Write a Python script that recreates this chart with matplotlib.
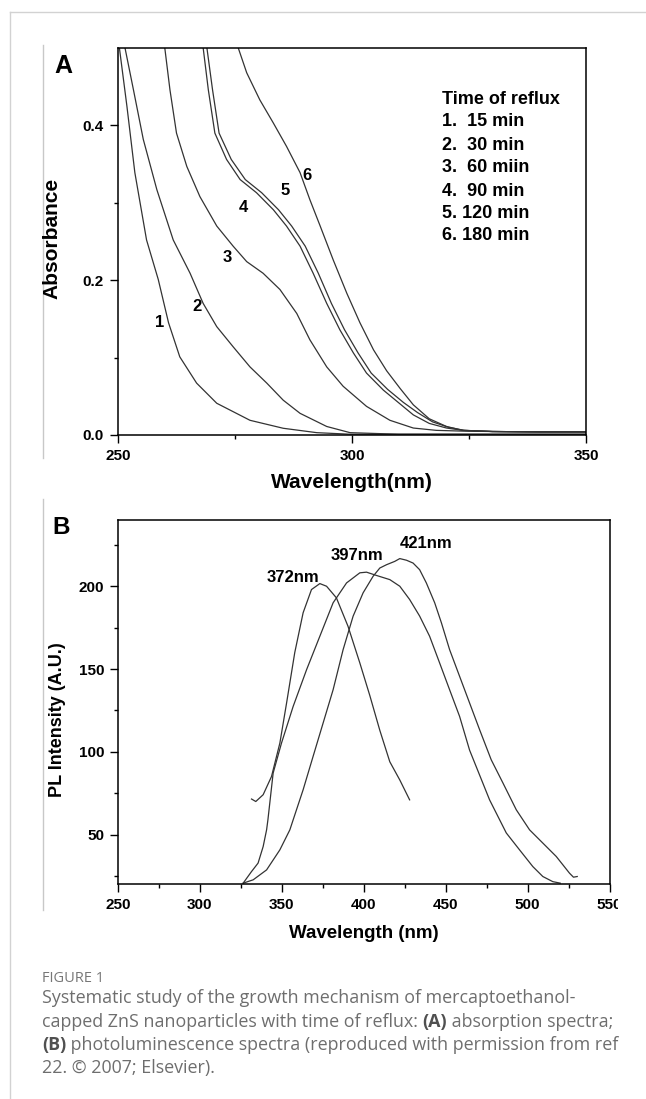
import matplotlib
matplotlib.use("Agg")
import matplotlib.pyplot as plt
from matplotlib.ticker import MultipleLocator, FixedLocator
from matplotlib.lines import Line2D
from matplotlib.patches import Rectangle

plt.rcParams['font.family'] = ['Liberation Sans', 'DejaVu Sans']

# --- panel A: absorption spectra (wavelength nm, absorbance) ---
wl_1 = [250.3, 251.9, 253.6, 256.1, 258.6, 260.8, 263.2, 266.8, 271.1, 278.2, 285.3, 292.5, 299.6, 310, 330, 350]
abs_1 = [0.500, 0.425, 0.339, 0.252, 0.201, 0.145, 0.101, 0.067, 0.041, 0.019, 0.0087, 0.003, 0.001, 0.001, 0.001, 0.001]

wl_2 = [251.5, 253.3, 255.4, 258.3, 261.8, 265.4, 268.2, 271.1, 274.6, 278.2, 281.8, 285.3, 288.9, 294.6, 299.6, 310, 330, 350]
abs_2 = [0.500, 0.446, 0.382, 0.317, 0.252, 0.209, 0.170, 0.140, 0.114, 0.088, 0.067, 0.045, 0.028, 0.011, 0.003, 0.001, 0.001, 0.001]

wl_3 = [260.0, 261.1, 262.5, 264.7, 267.5, 271.1, 274.6, 277.5, 281.0, 284.6, 288.2, 291.0, 294.6, 298.1, 303.1, 308.1, 313.1, 318, 323.7, 330, 340, 350]
abs_3 = [0.500, 0.446, 0.390, 0.347, 0.308, 0.270, 0.244, 0.224, 0.209, 0.188, 0.157, 0.123, 0.088, 0.063, 0.037, 0.019, 0.009, 0.006, 0.005, 0.0045, 0.004, 0.004]

wl_4 = [268.2, 269.3, 270.7, 273.2, 276.1, 279.6, 283.2, 286.0, 288.9, 291.7, 294.6, 297.4, 300.3, 303.1, 306.7, 310.3, 313.1, 316.5, 320.2, 323.7, 330, 340, 350]
abs_4 = [0.500, 0.446, 0.390, 0.356, 0.330, 0.313, 0.291, 0.270, 0.244, 0.209, 0.170, 0.136, 0.106, 0.080, 0.058, 0.040, 0.026, 0.015, 0.009, 0.006, 0.0045, 0.004, 0.004]

wl_5 = [269.0, 270.2, 271.6, 274.2, 277.2, 280.7, 284.3, 287.1, 290.0, 292.8, 295.6, 298.4, 301.3, 304.1, 307.6, 311.0, 314.0, 317.2, 320.6, 324.0, 330, 340, 350]
abs_5 = [0.500, 0.446, 0.390, 0.356, 0.330, 0.313, 0.291, 0.270, 0.244, 0.209, 0.170, 0.136, 0.106, 0.080, 0.059, 0.042, 0.029, 0.017, 0.010, 0.006, 0.0045, 0.004, 0.004]

wl_6 = [275.7, 277.5, 280.3, 283.2, 286.0, 288.9, 291.0, 293.2, 296.0, 298.9, 301.7, 304.6, 307.4, 310.3, 313.1, 316.5, 320.2, 323.7, 330, 340, 350]
abs_6 = [0.500, 0.468, 0.433, 0.403, 0.373, 0.339, 0.304, 0.270, 0.226, 0.183, 0.145, 0.110, 0.083, 0.060, 0.039, 0.021, 0.011, 0.006, 0.0045, 0.004, 0.004]

curve_tags = ['1', '2', '3', '4', '5', '6']
tag_x = [258.8, 266.9, 273.3, 276.7, 285.7, 290.4]
tag_y = [0.145, 0.166, 0.229, 0.294, 0.316, 0.335]

legend_lines = ['Time of reflux', '1.  15 min', '2.  30 min', '3.  60 miin',
                '4.  90 min', '5. 120 min', '6. 180 min']

# --- panel B: PL spectra (wavelength nm, intensity A.U.) ---
wl_372 = [331.5, 334.1, 338.6, 343.7, 348.8, 352.9, 357.9, 363.0, 368.1, 373.2, 377.3, 383.3, 390.4, 397.6, 403.7, 409.8, 415.9, 422.0, 428.0]
pl_372 = [71.5, 70.0, 74.1, 85.1, 105.3, 129.5, 160.0, 184.0, 198.0, 201.6, 200.0, 193.0, 175.8, 153.7, 134.0, 113.0, 94.0, 83.0, 71.0]

wl_397 = [326.4, 331.5, 335.5, 338.6, 340.7, 341.5, 344.7, 349.8, 356.9, 365.1, 373.2, 381.3, 389.5, 397.6, 401.7, 407.8, 415.9, 422.0, 428.0, 434.1, 440.2, 446.3, 452.4, 458.5, 464.6, 470.7, 476.8, 481.9, 487.0, 495.1, 503.2, 509.3, 515.4, 519.9]
pl_397 = [20.7, 27.7, 32.8, 42.8, 52.9, 58.9, 87.2, 105.3, 127.4, 149.6, 169.8, 190.0, 202.0, 208.1, 208.5, 206.5, 204.0, 200.0, 192.0, 182.0, 169.8, 153.7, 137.5, 121.4, 101.0, 86.0, 71.0, 61.0, 51.0, 40.8, 30.7, 24.7, 21.6, 20.7]

wl_421 = [326.4, 332.5, 340.7, 348.8, 354.9, 356.9, 363.0, 369.1, 375.2, 381.3, 387.4, 393.5, 399.6, 405.7, 409.8, 413.9, 418.9, 422.0, 426.1, 430.1, 434.1, 438.2, 443.3, 447.4, 452.4, 458.5, 464.6, 470.7, 477.8, 485.0, 493.1, 501.2, 509.3, 517.5, 525.6, 528.0, 530.3]
pl_421 = [20.7, 22.7, 28.7, 40.8, 52.9, 58.9, 77.1, 97.3, 117.4, 137.5, 161.7, 181.9, 196.0, 206.0, 211.0, 213.0, 215.0, 216.7, 215.7, 214.0, 210.0, 202.0, 190.0, 177.9, 161.7, 145.6, 129.5, 113.4, 95.2, 81.1, 65.0, 52.9, 44.9, 36.8, 26.7, 24.3, 24.7]

peak_labels = ['372nm', '397nm', '421nm']
peak_x = [356.7, 395.7, 438.1]
peak_y = [205.3, 218.5, 225.8]

W, H = 646, 1099
LINE = '#333333'


def fx(x):
    return x / W


def fy(y):
    return 1 - y / H


def style_axes(ax):
    for s in ax.spines.values():
        s.set_linewidth(1.1)
    ax.tick_params(which='major', direction='out', length=6, width=1, labelsize=11, pad=4,
                   top=False, right=False)
    ax.tick_params(which='minor', direction='out', length=3, width=1, top=False, right=False)
    for lab in ax.get_xticklabels() + ax.get_yticklabels():
        lab.set_fontweight('bold')


fig = plt.figure(figsize=(W / 100, H / 100), dpi=100)

# page frame lines
fig.add_artist(Line2D([fx(10), fx(646)], [fy(12), fy(12)], color='#d2d2d2', lw=1))
fig.add_artist(Line2D([fx(10), fx(10)], [fy(12), fy(1099)], color='#d2d2d2', lw=1))
fig.add_artist(Line2D([fx(43), fx(43)], [fy(45), fy(458)], color='#c8c8c8', lw=1))
fig.add_artist(Line2D([fx(43), fx(43)], [fy(499), fy(910)], color='#c8c8c8', lw=1))

# panel A
axA = fig.add_axes([fx(118), fy(435), (586 - 118) / W, (435 - 48) / H])
for wl, ab in [(wl_1, abs_1), (wl_2, abs_2), (wl_3, abs_3), (wl_4, abs_4), (wl_5, abs_5), (wl_6, abs_6)]:
    axA.plot(wl, ab, color=LINE, lw=0.9)
axA.set_xlim(250, 350)
axA.set_ylim(0, 0.5)
axA.xaxis.set_major_locator(MultipleLocator(50))
axA.xaxis.set_minor_locator(MultipleLocator(25))
axA.yaxis.set_major_locator(MultipleLocator(0.2))
axA.yaxis.set_minor_locator(FixedLocator([0.1, 0.3]))
style_axes(axA)
for t, x, y in zip(curve_tags, tag_x, tag_y):
    axA.text(x, y, t, fontsize=12, fontweight='bold', ha='center', va='center')

fig.text(fx(63), fy(66), 'A', fontsize=18, fontweight='bold', ha='center', va='center')
fig.text(fx(52), fy(238), 'Absorbance', fontsize=15, fontweight='bold', rotation=90,
         ha='center', va='center')
fig.text(fx(352), fy(483), 'Wavelength(nm)', fontsize=15, fontweight='bold', ha='center', va='center')
leg_y = [100, 122, 145, 168, 191, 213, 236]
for s, y in zip(legend_lines, leg_y):
    fig.text(fx(442), fy(y), s, fontsize=13, fontweight='bold', ha='left', va='center')

# panel B
axB = fig.add_axes([fx(118), fy(884.3), (609.5 - 118) / W, (884.3 - 520) / H])
for wl, pl in [(wl_372, pl_372), (wl_397, pl_397), (wl_421, pl_421)]:
    axB.plot(wl, pl, color=LINE, lw=0.9)
axB.set_xlim(250, 550)
axB.set_ylim(20, 240)
axB.xaxis.set_major_locator(MultipleLocator(50))
axB.xaxis.set_minor_locator(MultipleLocator(25))
axB.yaxis.set_major_locator(MultipleLocator(50))
axB.yaxis.set_minor_locator(MultipleLocator(25))
style_axes(axB)
for t, x, y in zip(peak_labels, peak_x, peak_y):
    axB.text(x, y, t, fontsize=12, fontweight='bold', ha='center', va='center')

fig.text(fx(61), fy(528), 'B', fontsize=17.5, fontweight='bold', ha='center', va='center')
fig.text(fx(57), fy(720), 'PL Intensity (A.U.)', fontsize=13, fontweight='bold', rotation=90,
         ha='center', va='center')
fig.text(fx(364), fy(933), 'Wavelength (nm)', fontsize=13.5, fontweight='bold', ha='center', va='center')

# the source image cuts the last tick label
fig.add_artist(Rectangle((fx(618), fy(918)), (646 - 618) / W, 30 / H, transform=fig.transFigure,
                         facecolor='white', edgecolor='none', zorder=10))

# caption
CAP = '#6e6e6e'
cap_font = ['Open Sans', 'DejaVu Sans']
fig.text(fx(42), fy(978), 'FIGURE 1', fontsize=10.5, color='#777777', family=cap_font, va='center')

renderer = fig.canvas.get_renderer()


def caption_line(y, parts):
    x = 42
    for txt, bold in parts:
        t = fig.text(fx(x), fy(y), txt, fontsize=12.9, family=cap_font, va='center',
                     color='#505050' if bold else CAP, fontweight='bold' if bold else 'normal')
        x += t.get_window_extent(renderer).width


caption_line(998, [('Systematic study of the growth mechanism of mercaptoethanol-', False)])
caption_line(1022, [('capped ZnS nanoparticles with time of reflux: ', False), ('(A)', True),
                    (' absorption spectra;', False)])
caption_line(1045, [('(B)', True), (' photoluminescence spectra (reproduced with permission from ref', False)])
caption_line(1068, [('22. \u00a9 2007; Elsevier).', False)])

fig.savefig('out.png', dpi=100)
